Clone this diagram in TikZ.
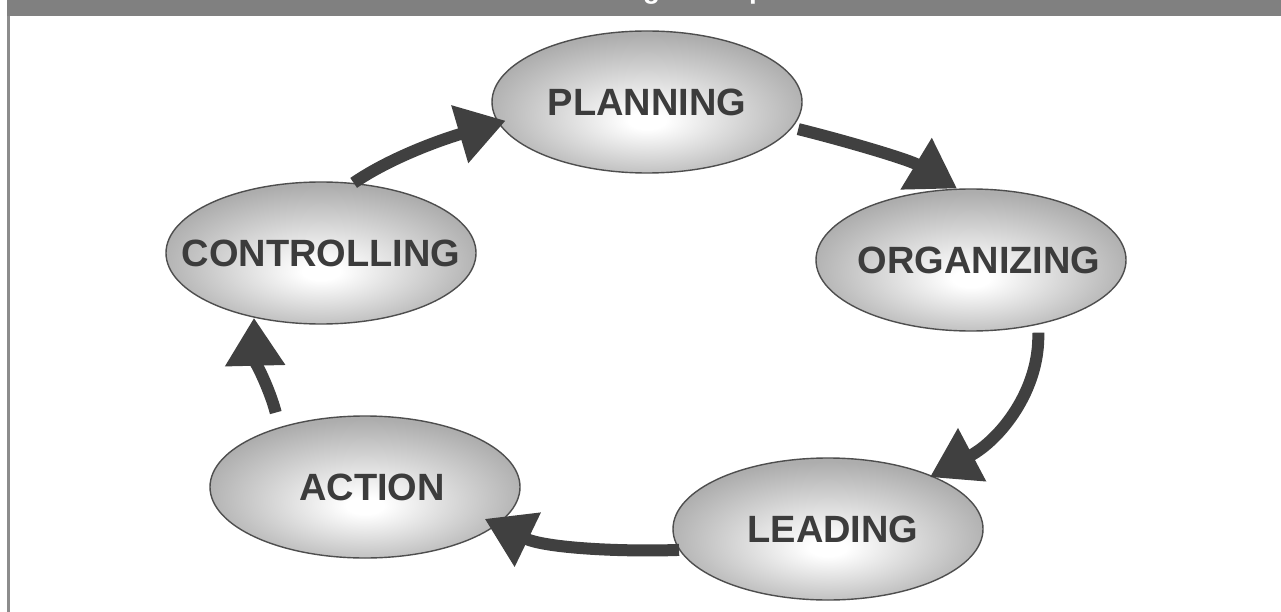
\documentclass[tikz,border=0pt]{standalone}
\usepackage{fontspec}
\setmainfont{Liberation Sans}
\usetikzlibrary{shapes.geometric,arrows.meta}

\definecolor{barfill}{HTML}{808080}
\definecolor{edgegray}{HTML}{8C8C8C}
\definecolor{inkgray}{HTML}{3C3C3C}
\definecolor{arrowgray}{HTML}{404040}
\definecolor{rimgray}{HTML}{4E4E4E}
\definecolor{shadegray}{HTML}{ADADAD}

% soft light spot slightly below the middle of each oval
\pgfdeclareradialshading{ovalshade}{\pgfpoint{0bp}{-7bp}}{%
  color(0bp)=(white); color(3bp)=(white);
  color(27bp)=(shadegray); color(50bp)=(shadegray)}

\begin{document}
\begin{tikzpicture}[x=1pt,y=-1pt,
  stage/.style={ellipse, draw=rimgray, line width=1.4pt, shading=ovalshade,
    minimum width=310pt, minimum height=142pt, inner sep=0pt,
    text=inkgray, font=\fontsize{38}{40}\selectfont\bfseries},
  flow/.style={draw=arrowgray, line width=12pt,
    -{Triangle[length=48pt,width=57pt]}},
  heading/.style={anchor=base west, inner sep=0pt, text=white,
    font=\fontsize{27.7}{30}\selectfont\bfseries}
]
\useasboundingbox (0,0) rectangle (1281,612);
\fill[white] (0,0) rectangle (1281,612);

% title strip and left frame line
\fill[barfill] (7,0) rectangle (1281,16);
\fill[edgegray] (7,16) rectangle (10,612);
\begin{scope}
  \clip (7,0) rectangle (1281,16);
  \node[heading] (title) at (572,-1.5) {Management process};
\end{scope}

% the five stages
\node[stage] (plan) at (647,102) {\makebox[0pt]{PLANNING}};
\node[stage] (org)  at (971,260) {\makebox[0pt]{\hspace*{16pt}ORGANIZING}};
\node[stage] (lead) at (828,529) {\makebox[0pt]{\hspace*{10pt}LEADING}};
\node[stage] (act)  at (365,487) {\makebox[0pt]{\hspace*{14pt}ACTION}};
\node[stage] (ctrl) at (321,253) {\makebox[0pt]{CONTROLLING}};

% cycle arrows
\draw[flow, shorten >=-8pt] (ctrl.65) .. controls (390,158) and (440,140) .. (plan.188);
\draw[flow, shorten <=6pt] (plan.-10) .. controls (850,142) and (910,160) .. (org.101);
\draw[flow, shorten <=8pt, shorten >=-3pt] (org.-44) .. controls (1040,390) and (1000,440) .. (lead.27);
\draw[flow, shorten >=-14pt] (lead.188) .. controls (620,552) and (545,548) .. (act.-16);
\draw[flow, shorten <=15pt] (act.145) .. controls (270,390) and (255,360) .. (ctrl.224);
\end{tikzpicture}
\end{document}
